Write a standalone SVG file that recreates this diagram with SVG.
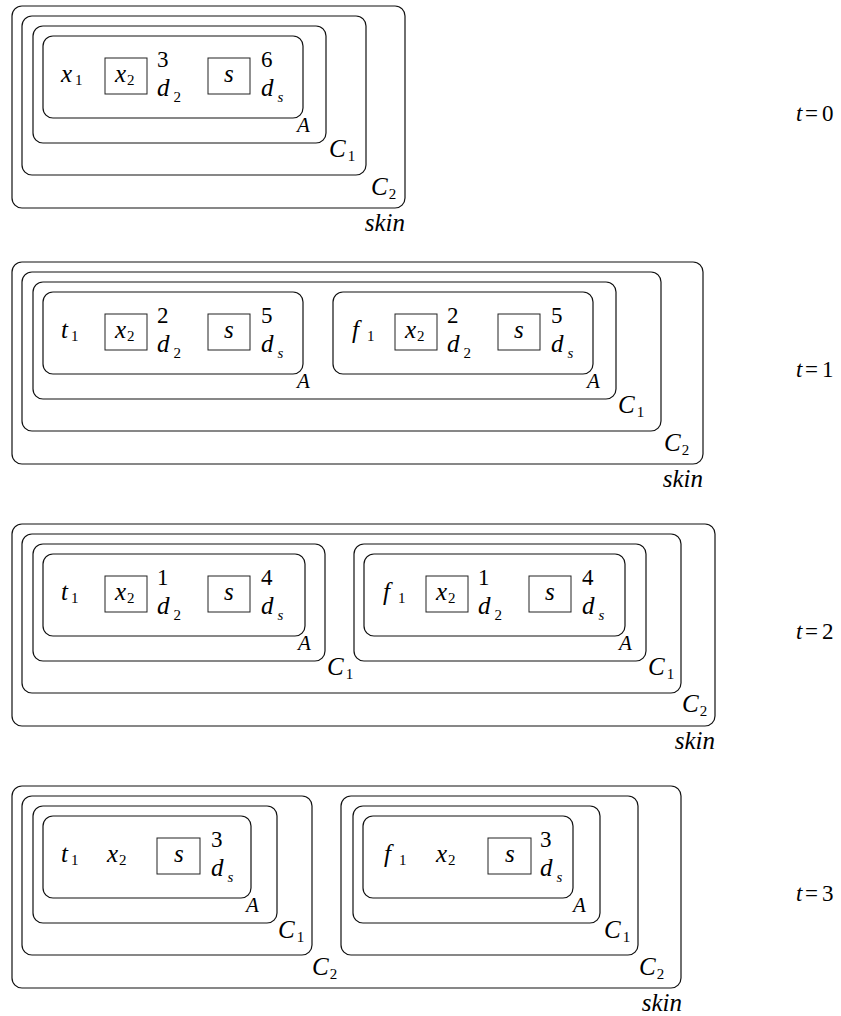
<svg xmlns="http://www.w3.org/2000/svg" width="841" height="1016" viewBox="0 0 841 1016">
<style>
.mem{fill:none;stroke:#111;stroke-width:1.2}
.box{fill:none;stroke:#222;stroke-width:1}
.m,.n,.sub,.subi,.la,.lc,.sk,.t{font-family:"Liberation Serif","Times New Roman",serif;fill:#000}
.m{font-style:italic;font-size:25px}
.n{font-style:normal;font-size:23px}
.sub{font-style:normal;font-size:15px}
.subi{font-style:italic;font-size:15px}
.la{font-style:italic;font-size:21px}
.lc{font-style:italic;font-size:25px}
.sk{font-style:italic;font-size:25px;text-anchor:end}
.t{font-size:23px}
</style>
<rect width="841" height="1016" fill="#fff"/>

<!-- t = 0 -->
<g id="state0" transform="translate(0,6)">
  <g id="s0-skin"><rect class="mem" x="12" y="0" width="393" height="202" rx="10"/><text class="sk" x="405" y="225">skin</text></g>
  <g id="s0-c2"><rect class="mem" x="22" y="10" width="344" height="159" rx="10"/><text class="lc" x="371" y="189">C<tspan class="sub" dx="1" dy="4">2</tspan></text></g>
  <g id="s0-c1"><rect class="mem" x="33" y="20" width="293" height="117" rx="10"/><text class="lc" x="329" y="151">C<tspan class="sub" dx="2" dy="4">1</tspan></text></g>
  <g id="s0-a"><rect class="mem" x="43" y="30" width="260" height="82" rx="10"/><text class="la" x="297" y="126">A</text>
    <text class="m" x="61" y="76">x<tspan class="sub" dx="3" dy="3">1</tspan></text>
    <g id="s0-x2"><rect class="box" x="105" y="52" width="42" height="36"/><text class="m" x="115" y="76">x<tspan class="sub" dx="1" dy="3">2</tspan></text></g>
    <text class="n" x="157" y="61">3</text>
    <text class="m" x="157" y="90">d<tspan class="sub" dx="4" dy="6">2</tspan></text>
    <g id="s0-s"><rect class="box" x="208" y="52" width="42" height="36"/><text class="m" x="224" y="76">s</text></g>
    <text class="n" x="261" y="61">6</text>
    <text class="m" x="261" y="90">d<tspan class="subi" dx="4" dy="6">s</tspan></text>
  </g>
</g>
<text class="t" x="796" y="121"><tspan font-style="italic">t</tspan><tspan x="805">=</tspan><tspan x="822">0</tspan></text>

<!-- t = 1 -->
<g id="state1" transform="translate(0,262)">
  <g id="s1-skin"><rect class="mem" x="12" y="0" width="691" height="202" rx="10"/><text class="sk" x="703" y="225">skin</text></g>
  <g id="s1-c2"><rect class="mem" x="22" y="10" width="639" height="159" rx="10"/><text class="lc" x="664" y="189">C<tspan class="sub" dx="1" dy="4">2</tspan></text></g>
  <g id="s1-c1"><rect class="mem" x="33" y="20" width="583" height="117" rx="10"/><text class="lc" x="618" y="151">C<tspan class="sub" dx="2" dy="4">1</tspan></text></g>
  <g id="s1-a1"><rect class="mem" x="43" y="30" width="260" height="82" rx="10"/><text class="la" x="297" y="126">A</text>
    <text class="m" x="61" y="76">t<tspan class="sub" dx="3" dy="3">1</tspan></text>
    <rect class="box" x="105" y="52" width="42" height="36"/><text class="m" x="115" y="76">x<tspan class="sub" dx="1" dy="3">2</tspan></text>
    <text class="n" x="157" y="61">2</text>
    <text class="m" x="157" y="90">d<tspan class="sub" dx="4" dy="6">2</tspan></text>
    <rect class="box" x="208" y="52" width="42" height="36"/><text class="m" x="224" y="76">s</text>
    <text class="n" x="261" y="61">5</text>
    <text class="m" x="261" y="90">d<tspan class="subi" dx="4" dy="6">s</tspan></text>
  </g>
  <g id="s1-a2"><rect class="mem" x="333" y="30" width="260" height="82" rx="10"/><text class="la" x="587" y="126">A</text>
    <text class="m" x="352" y="76">f<tspan class="sub" dx="8" dy="3">1</tspan></text>
    <rect class="box" x="395" y="52" width="42" height="36"/><text class="m" x="405" y="76">x<tspan class="sub" dx="1" dy="3">2</tspan></text>
    <text class="n" x="447" y="61">2</text>
    <text class="m" x="447" y="90">d<tspan class="sub" dx="4" dy="6">2</tspan></text>
    <rect class="box" x="498" y="52" width="42" height="36"/><text class="m" x="514" y="76">s</text>
    <text class="n" x="551" y="61">5</text>
    <text class="m" x="551" y="90">d<tspan class="subi" dx="4" dy="6">s</tspan></text>
  </g>
</g>
<text class="t" x="796" y="377"><tspan font-style="italic">t</tspan><tspan x="805">=</tspan><tspan x="822">1</tspan></text>

<!-- t = 2 -->
<g id="state2" transform="translate(0,524)">
  <g id="s2-skin"><rect class="mem" x="12" y="0" width="703" height="202" rx="10"/><text class="sk" x="715" y="225">skin</text></g>
  <g id="s2-c2"><rect class="mem" x="22" y="10" width="659" height="159" rx="10"/><text class="lc" x="682" y="188">C<tspan class="sub" dx="1" dy="4">2</tspan></text></g>
  <g id="s2-c1a"><rect class="mem" x="33" y="20" width="292" height="117" rx="10"/><text class="lc" x="327" y="151">C<tspan class="sub" dx="2" dy="4">1</tspan></text></g>
  <g id="s2-a1"><rect class="mem" x="43" y="30" width="262" height="82" rx="10"/><text class="la" x="298" y="126">A</text>
    <text class="m" x="61" y="76">t<tspan class="sub" dx="3" dy="3">1</tspan></text>
    <rect class="box" x="105" y="52" width="42" height="36"/><text class="m" x="115" y="76">x<tspan class="sub" dx="1" dy="3">2</tspan></text>
    <text class="n" x="157" y="61">1</text>
    <text class="m" x="157" y="90">d<tspan class="sub" dx="4" dy="6">2</tspan></text>
    <rect class="box" x="208" y="52" width="42" height="36"/><text class="m" x="224" y="76">s</text>
    <text class="n" x="261" y="61">4</text>
    <text class="m" x="261" y="90">d<tspan class="subi" dx="4" dy="6">s</tspan></text>
  </g>
  <g id="s2-c1b"><rect class="mem" x="354" y="20" width="292" height="117" rx="10"/><text class="lc" x="648" y="151">C<tspan class="sub" dx="2" dy="4">1</tspan></text></g>
  <g id="s2-a2"><rect class="mem" x="364" y="30" width="261" height="82" rx="10"/><text class="la" x="619" y="126">A</text>
    <text class="m" x="383" y="76">f<tspan class="sub" dx="8" dy="3">1</tspan></text>
    <rect class="box" x="426" y="52" width="42" height="36"/><text class="m" x="436" y="76">x<tspan class="sub" dx="1" dy="3">2</tspan></text>
    <text class="n" x="478" y="61">1</text>
    <text class="m" x="478" y="90">d<tspan class="sub" dx="4" dy="6">2</tspan></text>
    <rect class="box" x="529" y="52" width="42" height="36"/><text class="m" x="545" y="76">s</text>
    <text class="n" x="582" y="61">4</text>
    <text class="m" x="582" y="90">d<tspan class="subi" dx="4" dy="6">s</tspan></text>
  </g>
</g>
<text class="t" x="796" y="639"><tspan font-style="italic">t</tspan><tspan x="805">=</tspan><tspan x="822">2</tspan></text>

<!-- t = 3 -->
<g id="state3" transform="translate(0,786)">
  <g id="s3-skin"><rect class="mem" x="12" y="0" width="669" height="202" rx="10"/><text class="sk" x="682" y="225">skin</text></g>
  <g id="s3-c2a"><rect class="mem" x="22" y="10" width="290" height="159" rx="10"/><text class="lc" x="312" y="189">C<tspan class="sub" dx="1" dy="4">2</tspan></text></g>
  <g id="s3-c1a"><rect class="mem" x="33" y="20" width="244" height="117" rx="10"/><text class="lc" x="278" y="152">C<tspan class="sub" dx="2" dy="4">1</tspan></text></g>
  <g id="s3-a1"><rect class="mem" x="43" y="30" width="208" height="82" rx="10"/><text class="la" x="246" y="126">A</text>
    <text class="m" x="61" y="76">t<tspan class="sub" dx="3" dy="3">1</tspan></text>
    <text class="m" x="107" y="76">x<tspan class="sub" dx="1" dy="3">2</tspan></text>
    <rect class="box" x="157" y="52" width="43" height="36"/><text class="m" x="174" y="76">s</text>
    <text class="n" x="211" y="61">3</text>
    <text class="m" x="211" y="90">d<tspan class="subi" dx="4" dy="6">s</tspan></text>
  </g>
  <g id="s3-c2b"><rect class="mem" x="341" y="10" width="297" height="159" rx="10"/><text class="lc" x="639" y="189">C<tspan class="sub" dx="1" dy="4">2</tspan></text></g>
  <g id="s3-c1b"><rect class="mem" x="353" y="20" width="247" height="117" rx="10"/><text class="lc" x="604" y="152">C<tspan class="sub" dx="2" dy="4">1</tspan></text></g>
  <g id="s3-a2"><rect class="mem" x="363" y="30" width="210" height="82" rx="10"/><text class="la" x="573" y="126">A</text>
    <text class="m" x="384" y="76">f<tspan class="sub" dx="8" dy="3">1</tspan></text>
    <text class="m" x="436" y="76">x<tspan class="sub" dx="1" dy="3">2</tspan></text>
    <rect class="box" x="488" y="52" width="43" height="36"/><text class="m" x="505" y="76">s</text>
    <text class="n" x="540" y="61">3</text>
    <text class="m" x="540" y="90">d<tspan class="subi" dx="4" dy="6">s</tspan></text>
  </g>
</g>
<text class="t" x="796" y="901"><tspan font-style="italic">t</tspan><tspan x="805">=</tspan><tspan x="822">3</tspan></text>
</svg>
